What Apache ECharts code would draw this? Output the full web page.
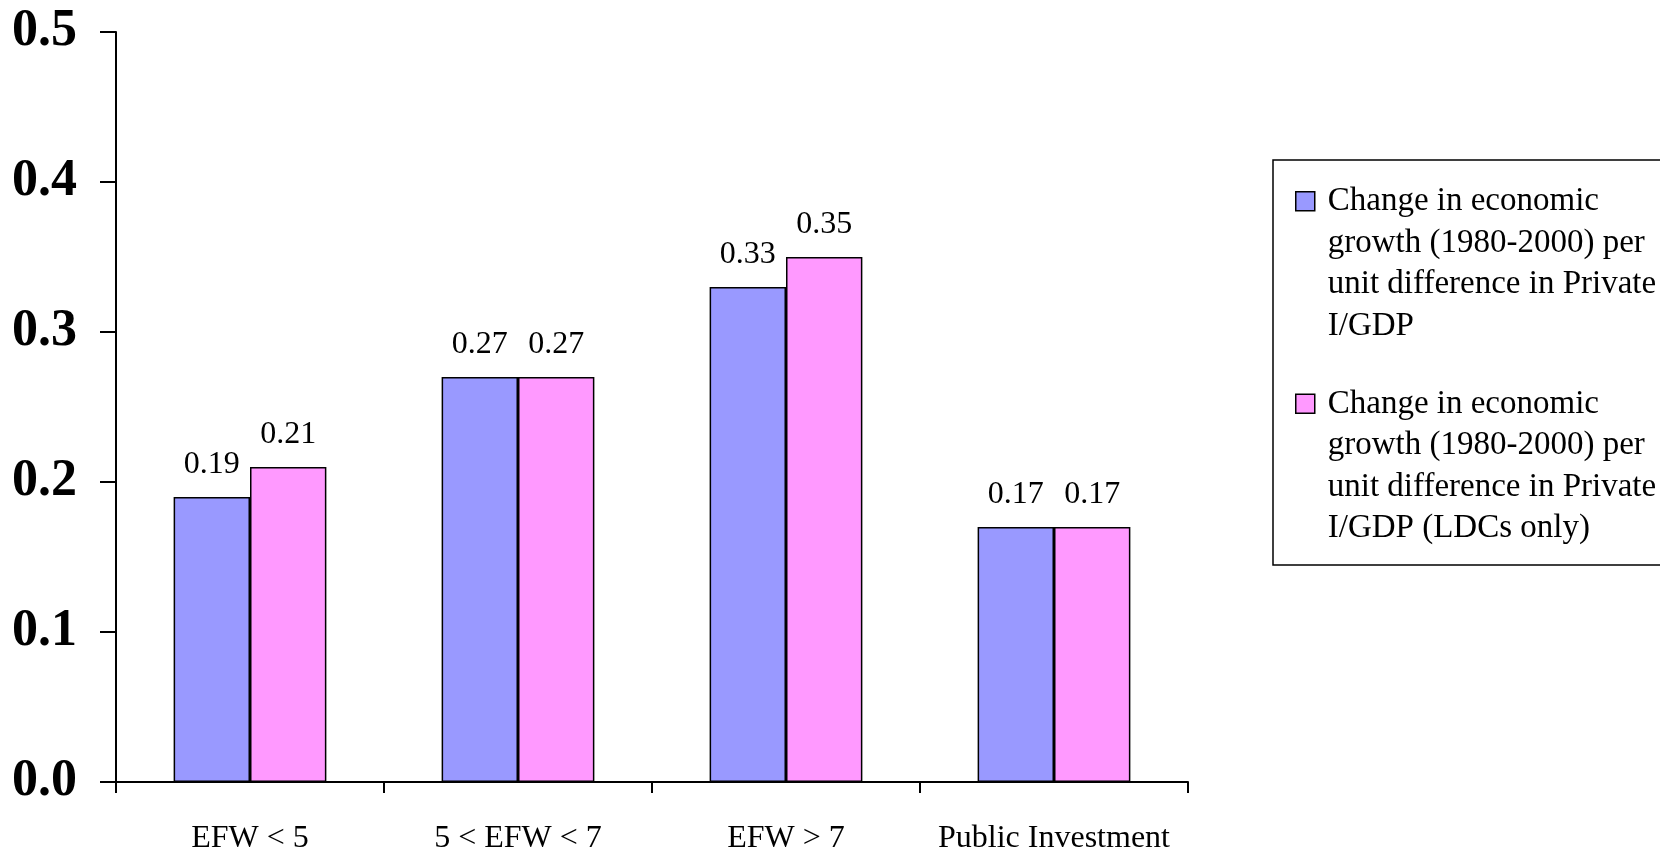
<!DOCTYPE html>
<html>
<head>
<meta charset="utf-8">
<script src="https://cdn.jsdelivr.net/npm/echarts@6/dist/echarts.min.js"></script>
<style>
  html, body { margin: 0; padding: 0; background: #fff; }
  #chart { width: 1660px; height: 851px; }
</style>
</head>
<body>
<div id="chart"></div>
<script>
// categories and values
const categories = ['EFW < 5', '5 < EFW < 7', 'EFW > 7', 'Public Investment']
const seriesNames = [
  'Change in economic\ngrowth (1980-2000) per\nunit difference in Private\nI/GDP',
  'Change in economic\ngrowth (1980-2000) per\nunit difference in Private\nI/GDP (LDCs only)'
]
const privateAll = [0.19, 0.27, 0.33, 0.17]
const privateLdc = [0.21, 0.27, 0.35, 0.17]
const seriesColors = ['#9999ff', '#ff99ff']

const serif = '"Liberation Serif", "Times New Roman", serif'

// square icon sitting on the first line of a 4-line legend entry
const legendIcon = 'path://M0,11L19,11L19,30L0,30Z M0,0 M0,166'

const chart = echarts.init(document.getElementById('chart'))

const makeSeries = (name, data, color) => ({
  name: name,
  type: 'bar',
  data: data,
  barGap: '0%',
  barCategoryGap: '43%',
  itemStyle: {
    color: color,
    borderColor: '#000',
    borderWidth: 1.5
  },
  label: {
    show: true,
    position: 'top',
    distance: 16,
    color: '#000',
    fontFamily: serif,
    fontSize: 32,
    formatter: p => p.value.toFixed(2)
  },
  emphasis: { disabled: true }
})

chart.setOption({
  animation: false,
  backgroundColor: '#fff',
  grid: {
    left: 116,
    right: 472,
    top: 32,
    bottom: 69,
    containLabel: false,
    outerBoundsMode: 'none'
  },
  legend: {
    orient: 'vertical',
    left: 1273,
    top: 160,
    padding: [20, 6, 15, 22],
    itemGap: 35,
    itemWidth: 19,
    itemHeight: 166,
    icon: legendIcon,
    borderColor: '#000',
    borderWidth: 1.5,
    itemStyle: { borderColor: '#000', borderWidth: 1.5 },
    textStyle: {
      color: '#000',
      fontFamily: serif,
      fontSize: 33,
      lineHeight: 41.5,
      padding: [0, 0, 0, 8]
    },
    selectedMode: false
  },
  xAxis: {
    type: 'category',
    data: categories,
    axisLine: { lineStyle: { color: '#000', width: 2 } },
    axisTick: { show: true, interval: 0, alignWithLabel: false, length: 11, lineStyle: { color: '#000', width: 2 } },
    axisLabel: {
      interval: 0,
      color: '#000',
      fontFamily: serif,
      fontSize: 32,
      margin: 41
    }
  },
  yAxis: {
    type: 'value',
    min: 0,
    max: 0.5,
    interval: 0.1,
    axisLine: { show: true, lineStyle: { color: '#000', width: 2 } },
    axisTick: { show: true, length: 16, lineStyle: { color: '#000', width: 2 } },
    splitLine: { show: false },
    axisLabel: {
      color: '#000',
      fontFamily: serif,
      fontSize: 52,
      fontWeight: 'bold',
      margin: 39,
      formatter: v => v.toFixed(1)
    }
  },
  series: [
    makeSeries(seriesNames[0], privateAll, seriesColors[0]),
    makeSeries(seriesNames[1], privateLdc, seriesColors[1])
  ]
})
</script>
</body>
</html>
